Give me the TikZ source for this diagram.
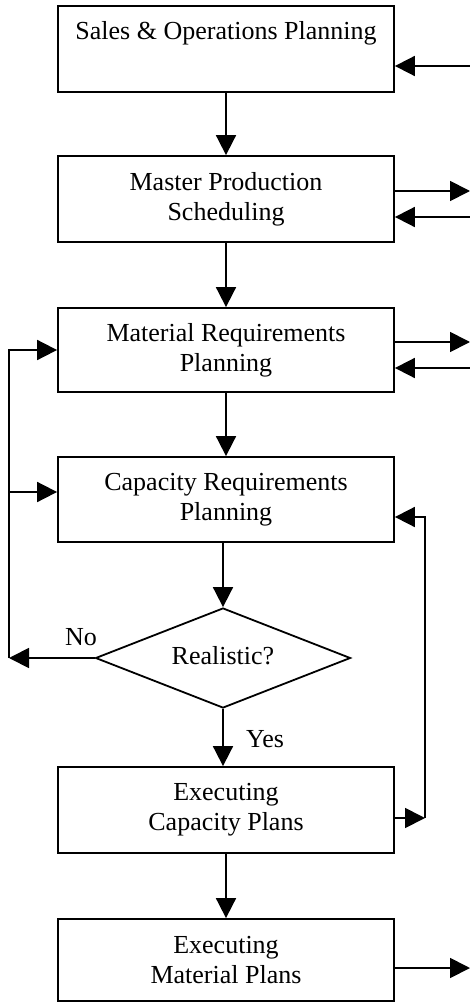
\documentclass[tikz,border=0pt]{standalone}
\usepackage{fontspec}
\setmainfont{Liberation Serif}
\usetikzlibrary{arrows.meta,shapes.geometric}
\begin{document}
\begin{tikzpicture}[x=1pt,y=-1pt,line width=1.8pt,
  txt/.style={font=\fontsize{26}{30}\selectfont},
  box/.style={draw,rectangle,minimum width=336pt,minimum height=#1,
    inner sep=0pt,align=center,txt},
  arr/.style={-{Triangle[length=20pt,width=20pt]}}]
\useasboundingbox (0,0) rectangle (470,1003);

% planning stages
\node[box=86pt] (sop) at (226,49) {\strut Sales \& Operations Planning\\\strut};
\node[box=86pt] (mps) at (226,199) {Master Production\\Scheduling};
\node[box=84pt] (mrp) at (226,350) {Material Requirements\\Planning};
\node[box=85pt] (crp) at (226,499.5) {Capacity Requirements\\Planning};
\node[draw,diamond,aspect=2.55,minimum width=255pt,minimum height=100pt,
  inner sep=0pt,txt] (real) at (223,658) {\strut Realistic?};
\node[box=86pt] (ecp) at (226,810) {Executing\\Capacity Plans};
\node[box=82pt] (emp) at (226,960) {Executing\\Material Plans};

% main flow
\draw[arr] (sop.south) -- (mps.north);
\draw[arr] (mps.south) -- (mrp.north);
\draw[arr] (crp.south -| real.north) -- (real.north);
\draw[arr] (mrp.south) -- (crp.north);
\draw[arr] (real.south) -- (real.south |- ecp.north);
\draw[arr] (ecp.south) -- (emp.north);

% decision labels
\node[txt,anchor=base] (no) at (81,645) {No};
\node[txt,anchor=base] (yes) at (265,747) {Yes};

% replanning loop on the left
\coordinate (lno) at (9,658);
\coordinate (lcrp) at (9,492);
\draw[arr] (real.west) -- (lno);
\draw[arr] (lno) |- (mrp.west);
\draw[arr] (lcrp) -- (lcrp -| crp.west);

% capacity feedback on the right
\coordinate (rcp) at (425,818);
\coordinate (rtop) at (425,517);
\draw[arr] (rcp -| ecp.east) -- (rcp);
\draw[arr] (rcp) -- (rtop) -- (rtop -| crp.east);

% links to the outside
\coordinate (in1) at (470,66);
\coordinate (out2) at (470,191);
\coordinate (in2) at (470,217);
\coordinate (out3) at (470,342);
\coordinate (in3) at (470,368);
\coordinate (out6) at (470,968);
\draw[arr] (in1) -- (in1 -| sop.east);
\draw[arr] (out2 -| mps.east) -- (out2);
\draw[arr] (in2) -- (in2 -| mps.east);
\draw[arr] (out3 -| mrp.east) -- (out3);
\draw[arr] (in3) -- (in3 -| mrp.east);
\draw[arr] (out6 -| emp.east) -- (out6);
\end{tikzpicture}
\end{document}
